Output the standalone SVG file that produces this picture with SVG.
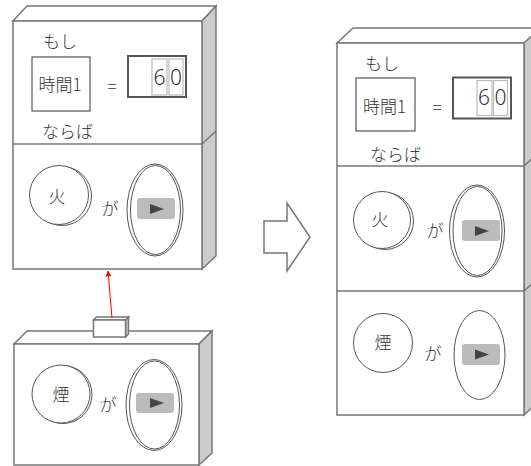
<svg xmlns="http://www.w3.org/2000/svg" width="531" height="466" viewBox="0 0 531 466">
  <style>
    .face { fill: #ffffff; stroke: #777777; stroke-width: 1.5; }
    .side { fill: #cccccc; stroke: #777777; stroke-width: 1.5; }
    .edge { fill: none; stroke: #777777; stroke-width: 1.5; }
    .lbl { font-family: "Noto Sans CJK JP", "Noto Sans", sans-serif; font-size: 17px; font-weight: 300; fill: #333333; }
    .digit { font-family: "Noto Sans", "Liberation Sans", sans-serif; font-size: 21px; font-weight: 300; fill: #333333; text-anchor: middle; }
    .box { fill: #ffffff; stroke: #555555; stroke-width: 1.2; }
    .counter { fill: #ffffff; stroke: #555555; stroke-width: 2; }
    .cell { fill: #ffffff; stroke: #bbbbbb; stroke-width: 1.2; }
    .ring { fill: #ffffff; stroke: #555555; stroke-width: 1; }
    .play { fill: #bbbbbb; }
    .tri { fill: #444444; }
    .mid { text-anchor: middle; }
  </style>
  <defs>
    <marker id="redhead" viewBox="0 0 10 10" refX="9" refY="5" markerWidth="6" markerHeight="6" orient="auto">
      <path d="M0,0 L10,5 L0,10 z" fill="#ff0000"/>
    </marker>
  </defs>

  <!-- upper left rule block -->
  <g id="rule-block">
    <polygon class="face" points="13,21 27,6 216,6 202,21"/>
    <polygon class="side" points="202,21 216,6 216,256 202,269"/>
    <line class="edge" x1="202" y1="144" x2="216" y2="131"/>
    <rect class="face" x="13" y="21" width="189" height="248"/>
    <line class="edge" x1="13" y1="144" x2="202" y2="144"/>
  </g>

  <g id="rule-condition">
    <text class="lbl" x="43" y="48">もし</text>
    <rect class="box" x="32" y="57" width="58" height="54"/>
    <text class="lbl mid" x="60" y="91">時間1</text>
    <text class="lbl mid" x="112" y="93">=</text>
    <rect class="counter" x="128" y="56" width="58" height="41"/>
    <rect class="cell" x="152" y="59" width="15" height="36"/>
    <rect class="cell" x="169" y="59" width="14" height="36"/>
    <text class="digit" x="159.5" y="85">6</text>
    <text class="digit" x="176" y="85">0</text>
    <text class="lbl" x="42" y="138">ならば</text>
  </g>

  <g id="rule-action">
    <circle class="ring" cx="62" cy="196" r="29.5"/>
    <circle class="ring" cx="59" cy="195" r="29.5"/>
    <text class="lbl mid" x="57" y="203">火</text>
    <text class="lbl mid" x="110" y="215">が</text>
    <ellipse class="ring" cx="155" cy="210" rx="28" ry="46"/>
    <ellipse class="ring" cx="155.5" cy="210" rx="25" ry="44.5"/>
    <rect class="play" x="137" y="198" width="38" height="21" rx="3"/>
    <polygon class="tri" points="150,204 164,209 150,214"/>
  </g>

  <!-- lower left block with its plug -->
  <g id="smoke-block">
    <polygon class="face" points="14,344 27,331 212,331 199,344"/>
    <polygon class="side" points="199,344 212,331 212,453 199,465"/>
    <rect class="face" x="14" y="344" width="185" height="121"/>
    <polygon class="side" points="125.5,320 128.5,317 128.5,334 125.5,337"/>
    <polygon class="face" points="93.5,320 96.5,317 128.5,317 125.5,320"/>
    <rect class="face" x="93.5" y="320" width="32" height="17"/>
    <circle class="ring" cx="63" cy="394.5" r="29"/>
    <circle class="ring" cx="61" cy="394" r="29"/>
    <text class="lbl mid" x="61" y="401">煙</text>
    <text class="lbl mid" x="108" y="411">が</text>
    <ellipse class="ring" cx="154" cy="405" rx="28" ry="45.5"/>
    <ellipse class="ring" cx="154.5" cy="405" rx="25" ry="44"/>
    <rect class="play" x="136" y="393" width="38" height="20" rx="3"/>
    <polygon class="tri" points="150,398 164,403 150,408"/>
  </g>

  <!-- merged block on the right -->
  <g id="merged-block">
    <polygon class="face" points="337,43 353,28 545,28 524,43"/>
    <polygon class="side" points="524,43 540,28 540,400 524,415"/>
    <line class="edge" x1="524" y1="166" x2="540" y2="151"/>
    <line class="edge" x1="524" y1="291" x2="540" y2="276"/>
    <rect class="face" x="337" y="43" width="187" height="372"/>
    <line class="edge" x1="337" y1="166" x2="524" y2="166"/>
    <line class="edge" x1="337" y1="291" x2="524" y2="291"/>
  </g>

  <g id="merged-condition">
    <text class="lbl" x="365" y="70">もし</text>
    <rect class="box" x="356" y="78" width="59" height="53"/>
    <text class="lbl mid" x="384.5" y="113">時間1</text>
    <text class="lbl mid" x="437" y="114">=</text>
    <rect class="counter" x="453" y="77.5" width="58" height="41"/>
    <rect class="cell" x="477" y="80.5" width="15" height="35"/>
    <rect class="cell" x="493.5" y="80.5" width="14" height="35"/>
    <text class="digit" x="484" y="105">6</text>
    <text class="digit" x="500.5" y="105">0</text>
    <text class="lbl" x="370" y="161">ならば</text>
  </g>

  <g id="merged-fire">
    <circle class="ring" cx="385" cy="221" r="28.5"/>
    <circle class="ring" cx="382" cy="220" r="28.5"/>
    <text class="lbl mid" x="380" y="226">火</text>
    <text class="lbl mid" x="435" y="237">が</text>
    <ellipse class="ring" cx="477" cy="231" rx="27.5" ry="46"/>
    <ellipse class="ring" cx="477.5" cy="231" rx="24.5" ry="44.5"/>
    <rect class="play" x="462" y="220" width="38" height="21" rx="3"/>
    <polygon class="tri" points="475,226 489,231 475,236"/>
  </g>

  <g id="merged-smoke">
    <circle class="ring" cx="383" cy="343" r="29.5"/>
    <text class="lbl mid" x="383" y="349">煙</text>
    <text class="lbl mid" x="433" y="360">が</text>
    <ellipse class="ring" cx="479.5" cy="355" rx="25.5" ry="44.5"/>
    <rect class="play" x="462" y="344" width="38" height="21" rx="3"/>
    <polygon class="tri" points="475,349.5 489,354.5 475,359.5"/>
  </g>

  <!-- transform arrow -->
  <g id="merge-arrow">
    <polygon points="264,221 287,221 287,203 310,237 287,271 287,253 264,253" fill="#ffffff" stroke="#777777" stroke-width="1.5"/>
  </g>

  <g id="connectors">
    <line x1="112" y1="318" x2="108" y2="271" stroke="#ff0000" stroke-width="1" marker-end="url(#redhead)"/>
  </g>
</svg>
